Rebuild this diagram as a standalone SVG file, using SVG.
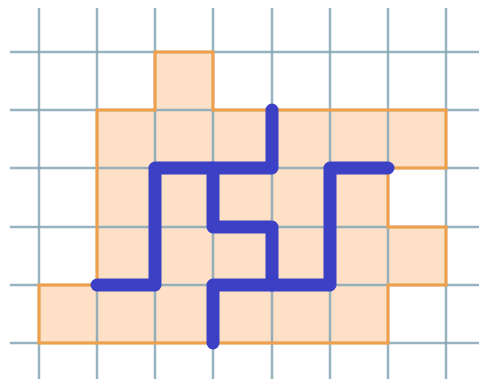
<svg xmlns="http://www.w3.org/2000/svg" width="479" height="379" viewBox="0 0 479 379">
<style>
.grid line{stroke:#86a6b6;stroke-width:2.5;opacity:0.85}
.blue{fill:none;stroke:#3b40c4;stroke-width:13;stroke-linecap:round;stroke-linejoin:round}
</style>
<rect width="479" height="379" fill="#ffffff"/>
<g id="region-fill">
<path d="M155,52 H213 V110 H446 V168 H388 V227 H446 V285 H388 V343 H39 V285 H97 V110 H155 Z" fill="#fde0c6"/>
</g>
<g id="grid" class="grid">
<line x1="39" y1="8" x2="39" y2="379"/>
<line x1="97" y1="8" x2="97" y2="379"/>
<line x1="155" y1="8" x2="155" y2="379"/>
<line x1="213" y1="8" x2="213" y2="379"/>
<line x1="272" y1="8" x2="272" y2="379"/>
<line x1="330" y1="8" x2="330" y2="379"/>
<line x1="388" y1="8" x2="388" y2="379"/>
<line x1="446" y1="8" x2="446" y2="379"/>
<line x1="10" y1="52" x2="479" y2="52"/>
<line x1="10" y1="110" x2="479" y2="110"/>
<line x1="10" y1="168" x2="479" y2="168"/>
<line x1="10" y1="227" x2="479" y2="227"/>
<line x1="10" y1="285" x2="479" y2="285"/>
<line x1="10" y1="343" x2="479" y2="343"/>
</g>
<g id="region-outline">
<path d="M155,52 H213 V110 H446 V168 H388 V227 H446 V285 H388 V343 H39 V285 H97 V110 H155 Z" fill="none" stroke="#f0a048" stroke-width="3"/>
</g>
<g id="connectors">
<path class="blue" d="M97,285 H155 V168 H272 V110"/>
<path class="blue" d="M213,168 V227 H272 V285"/>
<path class="blue" d="M213,343 V285 H330 V168 H388"/>
</g>
</svg>
